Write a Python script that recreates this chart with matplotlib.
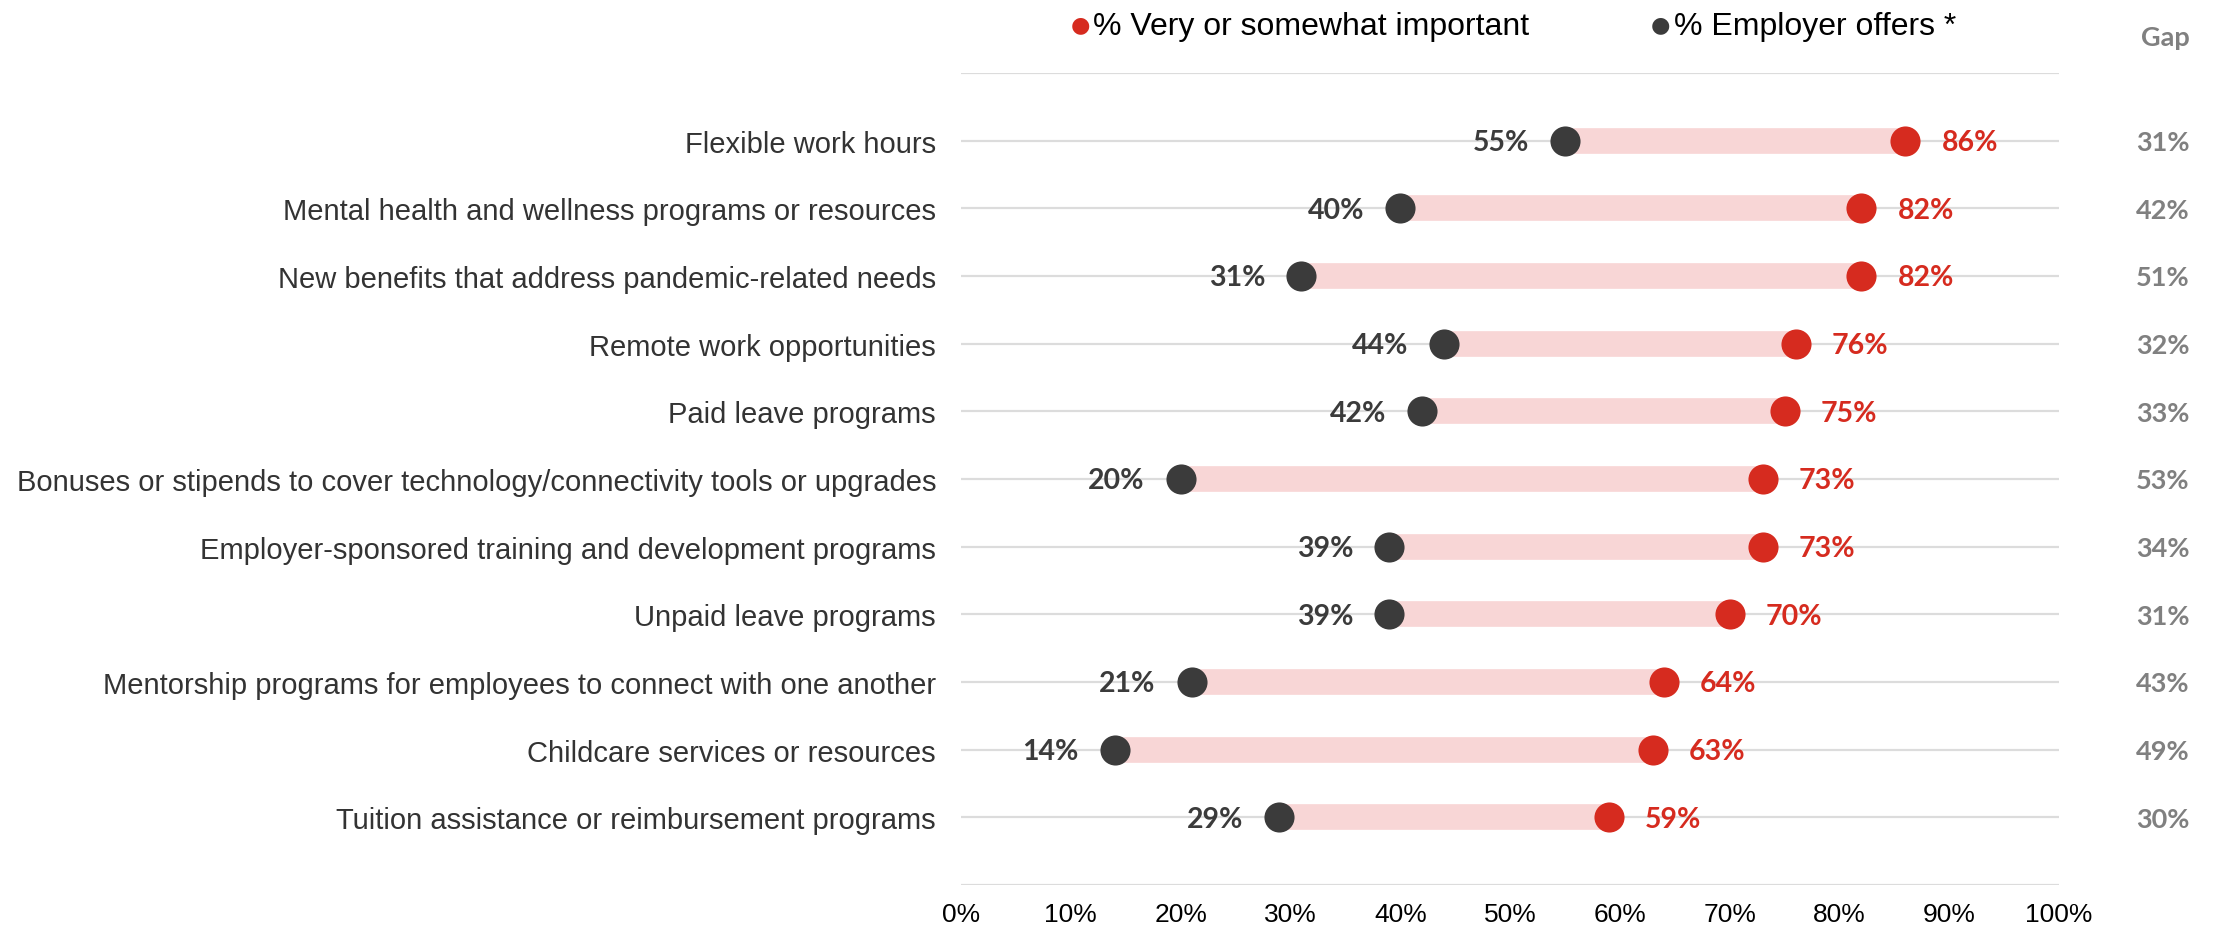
import matplotlib.pyplot as plt

# data
labels = [
    "Flexible work hours",
    "Mental health and wellness programs or resources",
    "New benefits that address pandemic-related needs",
    "Remote work opportunities",
    "Paid leave programs",
    "Bonuses or stipends to cover technology/connectivity tools or upgrades",
    "Employer-sponsored training and development programs",
    "Unpaid leave programs",
    "Mentorship programs for employees to connect with one another",
    "Childcare services or resources",
    "Tuition assistance or reimbursement programs",
]
important = [86, 82, 82, 76, 75, 73, 73, 70, 64, 63, 59]
offers = [55, 40, 31, 44, 42, 20, 39, 39, 21, 14, 29]
gaps = [31, 42, 51, 32, 33, 53, 34, 31, 43, 49, 30]
xticks = [0, 10, 20, 30, 40, 50, 60, 70, 80, 90, 100]

RED = "#d62b1f"
DARK = "#3b3b3b"
PINK = "#f8d6d6"
GRID = "#dcdcdc"
GREY = "#808080"

LABEL_FONT = "Liberation Sans"
VALUE_FONT = "Lato"

fig = plt.figure(figsize=(22.22, 9.28), dpi=100)
ax = fig.add_axes([0.4325, 0.0453, 0.4942, 0.8750])

n = len(labels)
ys = list(range(n))

# gridlines at each row plus top and bottom edges
for y in range(-1, n + 1):
    ax.axhline(y, color=GRID, lw=1.6, zorder=0)

for y, lo, hi in zip(ys, offers, important):
    ax.plot([lo, hi], [y, y], color=PINK, lw=18.5, solid_capstyle="butt", zorder=1)

ax.scatter(offers, ys, s=470, color=DARK, zorder=3, linewidths=0)
ax.scatter(important, ys, s=470, color=RED, zorder=3, linewidths=0)

for y, lo, hi, g in zip(ys, offers, important, gaps):
    ax.annotate(f"{lo}%", (lo, y), xytext=(-26, -1), textcoords="offset points",
                ha="right", va="center", fontsize=20.5, fontweight="bold",
                color=DARK, family=VALUE_FONT)
    ax.annotate(f"{hi}%", (hi, y), xytext=(26, -1), textcoords="offset points",
                ha="left", va="center", fontsize=20.5, fontweight="bold",
                color=RED, family=VALUE_FONT)
    ax.annotate(f"{g}%", (1, y), xycoords=("axes fraction", "data"),
                xytext=(94, -1), textcoords="offset points",
                ha="right", va="center", fontsize=19.5, fontweight="bold",
                color=GREY, family=VALUE_FONT)

ax.annotate("Gap", (1, -1), xycoords=("axes fraction", "data"),
            xytext=(94, 26), textcoords="offset points",
            ha="right", va="center", fontsize=19.5, fontweight="bold",
            color=GREY, family=VALUE_FONT)

ax.set_xlim(0, 100)
ax.set_ylim(n, -1)
ax.set_xticks(xticks)
ax.set_xticklabels([f"{t}%" for t in xticks], fontsize=19, family=LABEL_FONT)
ax.set_yticks(ys)
ax.set_yticklabels(labels, fontsize=21, family=LABEL_FONT, color="#333333")
ax.tick_params(axis="both", length=0)
ax.tick_params(axis="y", pad=18)
ax.tick_params(axis="x", pad=12)
for s in ax.spines.values():
    s.set_visible(False)

# legend drawn as text with dots
fig.text(0.4862, 0.973, "\u25CF", color=RED, fontsize=16, ha="center", va="center",
         family="DejaVu Sans")
fig.text(0.4920, 0.971, "% Very or somewhat important", color="black", fontsize=23,
         ha="left", va="center", family=LABEL_FONT)
fig.text(0.7474, 0.973, "\u25CF", color=DARK, fontsize=16, ha="center", va="center",
         family="DejaVu Sans")
fig.text(0.7535, 0.971, "% Employer offers *", color="black", fontsize=23,
         ha="left", va="center", family=LABEL_FONT)

fig.savefig("out.png", dpi=100, facecolor="white")
